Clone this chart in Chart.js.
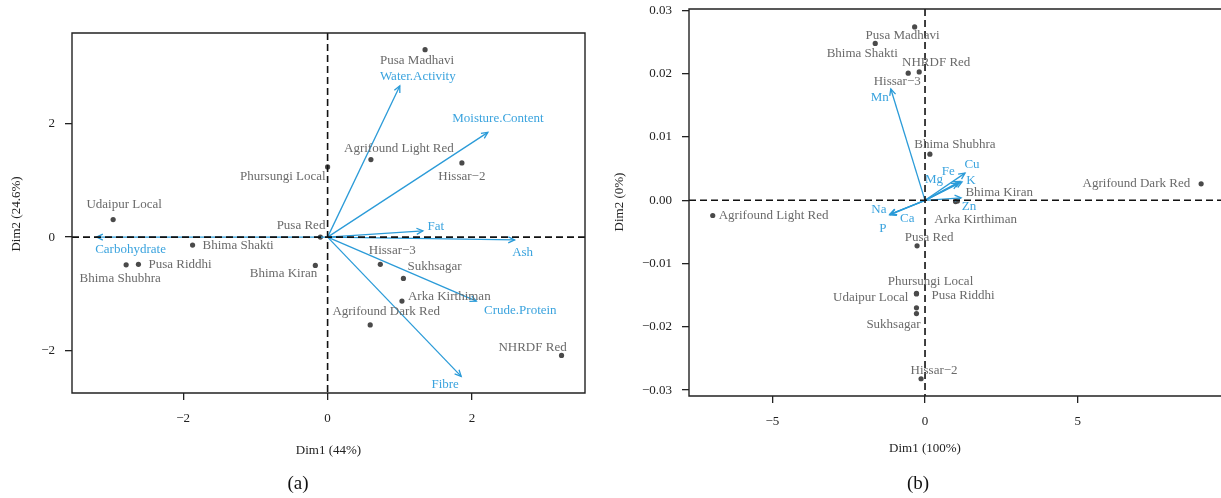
<!DOCTYPE html>
<html><head><meta charset="utf-8">
<script src="https://cdn.jsdelivr.net/npm/chart.js@4.4.0/dist/chart.umd.min.js"></script>
<style>
html,body{margin:0;padding:0;background:#fff;width:1221px;height:498px;overflow:hidden}
#ca{position:absolute;left:0;top:0}
#cb{position:absolute;left:610px;top:0}
.cap{position:absolute;top:471px;width:40px;text-align:center;line-height:24px;font-size:19px;font-family:'Liberation Serif','Times New Roman',serif;color:#111}
</style></head><body>
<canvas id="ca" width="610" height="498"></canvas>
<canvas id="cb" width="611" height="498"></canvas>
<div class="cap" style="left:278px">(a)</div>
<div class="cap" style="left:898px">(b)</div>
<script>
// ---------- DATA: panel (a) ----------
const namesA = ["Pusa Madhavi","Agrifound Light Red","Hissar\u22122","Phursungi Local","Udaipur Local","Pusa Red","Bhima Shakti","Pusa Riddhi","Bhima Shubhra","Bhima Kiran","Hissar\u22123","Sukhsagar","Arka Kirthiman","Agrifound Dark Red","NHRDF Red"];
const dim1A = [1.35, 0.60, 1.86, 0.00, -2.97, -0.10, -1.87, -2.62, -2.79, -0.17, 0.73, 1.05, 1.03, 0.59, 3.24];
const dim2A = [3.31, 1.37, 1.31, 1.24, 0.31, 0.00, -0.14, -0.48, -0.49, -0.50, -0.48, -0.73, -1.13, -1.55, -2.09];
const varsA = ["Water.Activity","Moisture.Content","Fat","Ash","Crude.Protein","Fibre","Carbohydrate"];
const varDim1A = [1.00, 2.22, 1.32, 2.59, 2.06, 1.85, -3.20];
const varDim2A = [2.67, 1.85, 0.11, -0.05, -1.13, -2.46, 0.00];
const xTicksA = [-2, 0, 2];
const yTicksA = [-2, 0, 2];
const xTitleA = "Dim1 (44%)";
const yTitleA = "Dim2 (24.6%)";

// ---------- DATA: panel (b) ----------
const namesB = ["Pusa Madhavi","Bhima Shakti","NHRDF Red","Hissar\u22123","Bhima Shubhra","Agrifound Dark Red","Bhima Kiran","Arka Kirthiman","Agrifound Light Red","Pusa Red","Phursungi Local","Pusa Riddhi","Udaipur Local","Sukhsagar","Hissar\u22122"];
const dim1B = [-0.34, -1.63, -0.19, -0.55, 0.16, 9.04, 1.06, 1.00, -6.95, -0.26, -0.28, -0.28, -0.28, -0.28, -0.13];
const dim2B = [0.0274, 0.0248, 0.0203, 0.0201, 0.0073, 0.0026, -0.0001, -0.0002, -0.0024, -0.0072, -0.0147, -0.0148, -0.0170, -0.0179, -0.0282];
const varsB = ["Mn","Na","Ca","P","Mg","Fe","Cu","K","Zn"];
const varDim1B = [-1.12, -1.15, -1.14, -1.15, 1.08, 1.15, 1.31, 1.21, 1.18];
const varDim2B = [0.0176, -0.0022, -0.0022, -0.0023, 0.0027, 0.0030, 0.0043, 0.0029, 0.0004];
const xTicksB = [-5, 0, 5];
const yTicksB = [-0.03, -0.02, -0.01, 0, 0.01, 0.02, 0.03];
const xTitleB = "Dim1 (100%)";
const yTitleB = "Dim2 (0%)";

// ---------- LAYOUT (label offsets in px: dx, dy, align) ----------
const labOffA = [[-8,11,'center'],[28,-11,'center'],[0,14,'center'],[-2,10,'right'],[11,-15,'center'],[5,-12,'right'],[10,1,'left'],[10,0,'left'],[-6,14,'center'],[2,8,'right'],[12,-14,'center'],[4,-12,'left'],[6,-5,'left'],[16,-13,'center'],[-29,-8,'center']];
const varOffA = [[18,-9,'center'],[10,-14,'center'],[13,-4,'center'],[8,13,'center'],[44,9,'center'],[-16,8,'center'],[34,12,'center']];
const labOffB = [[-12,9,'center'],[-13,10,'center'],[17,-9,'center'],[-11,8,'center'],[25,-10,'center'],[-11,0,'right'],[8,-8,'left'],[20,18,'center'],[6,0,'left'],[12,-8,'center'],[14,-12,'center'],[15,2,'left'],[-8,-10,'right'],[-23,11,'center'],[13,-8,'center']];
const varOffB = [[-11,9,'center'],[-11,-5,'center'],[17,4,'center'],[-7,14,'center'],[-24,-4,'center'],[-12,-10,'center'],[7,-9,'center'],[9,-1,'center'],[8,9,'center']];

const FONT = "'Liberation Serif','Times New Roman',serif";
const BLUE = '#2b9bd8', BLUE_T = '#3aa3de', GRAY_T = '#6a6a6a', DOT = '#4a4a4a', INK = '#222';
const minus = s => String(s).replace('-', '\u2212');

const biplot = {
  id: 'biplot',
  afterDatasetsDraw(chart) {
    const o = chart.options.plugins.biplot;
    const {ctx, chartArea: a, scales: {x, y}} = chart;
    ctx.save();
    const x0 = x.getPixelForValue(0), y0 = y.getPixelForValue(0);
    // arrowheads
    ctx.strokeStyle = BLUE; ctx.lineWidth = 1.3;
    o.vx.forEach((vx, i) => {
      const tx = x.getPixelForValue(vx), ty = y.getPixelForValue(o.vy[i]);
      const ang = Math.atan2(ty - y0, tx - x0), L = 7, w = 0.45;
      ctx.beginPath();
      ctx.moveTo(tx - L * Math.cos(ang - w), ty - L * Math.sin(ang - w));
      ctx.lineTo(tx, ty);
      ctx.lineTo(tx - L * Math.cos(ang + w), ty - L * Math.sin(ang + w));
      ctx.stroke();
    });
    // dashed zero lines
    ctx.strokeStyle = '#111'; ctx.lineWidth = 1.6; ctx.setLineDash([7, 4]);
    ctx.beginPath();
    ctx.moveTo(a.left, y0); ctx.lineTo(a.right, y0);
    ctx.moveTo(x0, a.top); ctx.lineTo(x0, a.bottom);
    ctx.stroke();
    ctx.setLineDash([]);
    // box
    ctx.strokeStyle = INK; ctx.lineWidth = 1.4;
    ctx.beginPath();
    ctx.moveTo(a.right, a.top); ctx.lineTo(a.left, a.top); ctx.lineTo(a.left, a.bottom); ctx.lineTo(a.right, a.bottom);
    if (o.rightBorder) ctx.closePath();
    ctx.stroke();
    // labels
    ctx.font = '13px ' + FONT; ctx.textBaseline = 'middle';
    ctx.fillStyle = GRAY_T;
    o.names.forEach((n, i) => {
      const off = o.labOff[i];
      ctx.textAlign = off[2];
      ctx.fillText(n, x.getPixelForValue(o.px[i]) + off[0], y.getPixelForValue(o.py[i]) + off[1]);
    });
    ctx.fillStyle = BLUE_T;
    o.vars.forEach((n, i) => {
      const off = o.varOff[i];
      ctx.textAlign = off[2];
      ctx.fillText(n, x.getPixelForValue(o.vx[i]) + off[0], y.getPixelForValue(o.vy[i]) + off[1]);
    });
    // axis titles
    ctx.fillStyle = INK; ctx.textAlign = 'center';
    ctx.fillText(o.xTitle, o.xTitlePos[0], o.xTitlePos[1]);
    ctx.translate(o.yTitlePos[0], o.yTitlePos[1]);
    ctx.rotate(-Math.PI / 2);
    ctx.fillText(o.yTitle, 0, 0);
    ctx.restore();
  }
};

function makeChart(id, d) {
  const datasets = [];
  d.vx.forEach((vx, i) => datasets.push({
    type: 'scatter', showLine: true, data: [{x: 0, y: 0}, {x: vx, y: d.vy[i]}],
    borderColor: BLUE, borderWidth: 1.3, pointRadius: 0, fill: false
  }));
  datasets.push({
    type: 'scatter', data: d.px.map((v, i) => ({x: v, y: d.py[i]})),
    pointRadius: 2.6, pointBackgroundColor: DOT, pointBorderWidth: 0, backgroundColor: DOT
  });
  const zeroPad = s => { s.paddingTop = 0; s.paddingBottom = 0; s.paddingLeft = 0; s.paddingRight = 0; };
  const axis = (ticks, fmt, fit) => ({
    type: 'linear',
    afterBuildTicks: s => { s.ticks = ticks.map(v => ({value: v})); },
    afterFit: s => { fit(s); zeroPad(s); },
    ticks: {font: {family: FONT, size: 13}, color: INK, padding: 10, maxRotation: 0, autoSkip: false, callback: fmt},
    grid: {drawOnChartArea: false, drawTicks: true, tickLength: 7, color: INK, lineWidth: 1.3},
    border: {display: false}
  });
  const xs = axis(d.xTicks, v => minus(v), s => { s.height = d.xAxisH; });
  xs.min = d.xr[0]; xs.max = d.xr[1]; xs.ticks.padding = 11;
  const ys = axis(d.yTicks, d.yFmt, s => { s.width = d.yAxisW; });
  ys.min = d.yr[0]; ys.max = d.yr[1];
  return new Chart(document.getElementById(id), {
    type: 'scatter',
    data: {datasets},
    options: {
      responsive: false, animation: false, events: [], devicePixelRatio: 1,
      layout: {padding: d.pad, autoPadding: false},
      scales: {x: xs, y: ys},
      plugins: {legend: {display: false}, tooltip: {enabled: false}, biplot: d}
    },
    plugins: [biplot]
  });
}

makeChart('ca', {
  names: namesA, px: dim1A, py: dim2A, vars: varsA, vx: varDim1A, vy: varDim2A,
  labOff: labOffA, varOff: varOffA, xTicks: xTicksA, yTicks: yTicksA,
  xr: [-3.54, 3.565], yr: [-2.753, 3.605],
  yFmt: v => minus(v), yAxisW: 72, xAxisH: 105, rightBorder: true,
  pad: {left: 0, right: 25, top: 33, bottom: 0},
  xTitle: xTitleA, yTitle: yTitleA, xTitlePos: [328.5, 451], yTitlePos: [17, 214]
});
makeChart('cb', {
  names: namesB, px: dim1B, py: dim2B, vars: varsB, vx: varDim1B, vy: varDim2B,
  labOff: labOffB, varOff: varOffB, xTicks: xTicksB, yTicks: yTicksB,
  xr: [-7.727, 9.69], yr: [-0.03093, 0.03024],
  yFmt: v => minus(Number(v).toFixed(2)), yAxisW: 79, xAxisH: 102, rightBorder: false,
  pad: {left: 0, right: 0, top: 9, bottom: 0},
  xTitle: xTitleB, yTitle: yTitleB, xTitlePos: [315, 449], yTitlePos: [10, 202]
});
</script>
</body></html>
